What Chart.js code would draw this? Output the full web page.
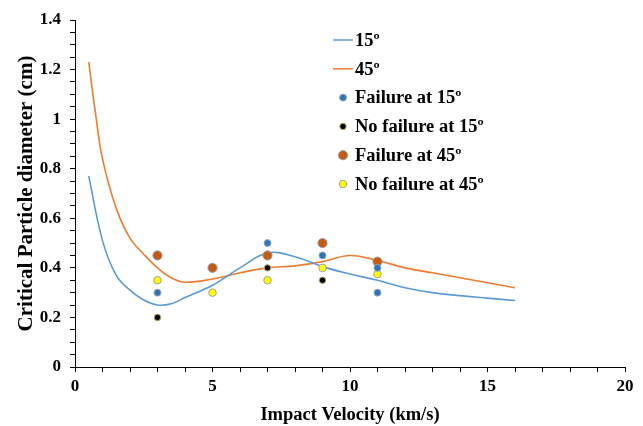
<!DOCTYPE html>
<html>
<head>
<meta charset="utf-8">
<script src="https://cdn.jsdelivr.net/npm/chart.js@4.4.1/dist/chart.umd.min.js"></script>
<style>
  html, body { margin: 0; padding: 0; background: #fff; }
  #wrap { width: 643px; height: 426px; }
</style>
</head>
<body>
<div id="wrap"><canvas id="myChart"></canvas></div>
<script>
// curve for 15 deg
var velo15 = [0.5, 1, 1.5, 2, 2.5, 3, 3.5, 4, 5, 6, 7, 8, 9, 10, 11, 12, 13, 14, 15, 16];
var diam15 = [0.77, 0.51, 0.37, 0.31, 0.27, 0.25, 0.255, 0.28, 0.33, 0.40, 0.46, 0.445, 0.405, 0.375, 0.35, 0.32, 0.30, 0.288, 0.278, 0.268];
// curve for 45 deg
var velo45 = [0.5, 0.75, 1, 1.5, 2, 2.5, 3, 3.5, 4, 5, 6, 7, 8, 9, 10, 11, 12, 13, 14, 15, 16];
var diam45 = [1.23, 1.02, 0.84, 0.64, 0.52, 0.455, 0.40, 0.36, 0.342, 0.355, 0.38, 0.40, 0.408, 0.425, 0.45, 0.43, 0.40, 0.38, 0.36, 0.34, 0.32];

// test points
var fail15X = [3, 7, 9, 11, 11];
var fail15Y = [0.30, 0.50, 0.45, 0.40, 0.30];
var noFail15X = [3, 7, 9];
var noFail15Y = [0.20, 0.40, 0.35];
var fail45X = [3, 5, 7, 9, 11];
var fail45Y = [0.45, 0.40, 0.45, 0.50, 0.425];
var noFail45X = [3, 5, 7, 9, 11];
var noFail45Y = [0.35, 0.30, 0.35, 0.40, 0.375];

var etiquetas = ['15º', '45º', 'Failure at 15º', 'No failure at 15º', 'Failure at 45º', 'No failure at 45º'];

function pares(xs, ys) {
    return xs.map((x, i) => ({x: x, y: ys[i]}));
}

var fuente = '"Liberation Serif", "Times New Roman", serif';

// legend drawn inside the plot, like the original
const leyenda = {
    id: 'leyenda',
    afterDraw(chart) {
        var ctx = chart.ctx;
        var x0 = 333, y0 = 40, paso = 28.8;
        ctx.save();
        ctx.font = 'bold 18.5px ' + fuente;
        ctx.textBaseline = 'middle';
        ctx.fillStyle = '#000';
        chart.data.datasets.forEach((ds, i) => {
            var y = y0 + i * paso;
            if (ds.showLine) {
                ctx.strokeStyle = ds.borderColor;
                ctx.lineWidth = 1.5;
                ctx.beginPath();
                ctx.moveTo(x0, y);
                ctx.lineTo(x0 + 20, y);
                ctx.stroke();
            } else {
                ctx.beginPath();
                ctx.arc(x0 + 10, y, ds.pointRadius, 0, Math.PI * 2);
                ctx.fillStyle = ds.pointBackgroundColor;
                ctx.fill();
                ctx.strokeStyle = ds.pointBorderColor;
                ctx.lineWidth = ds.pointBorderWidth;
                ctx.stroke();
            }
            ctx.fillStyle = '#000';
            ctx.fillText(etiquetas[i], x0 + 22, y + 1);
        });
        ctx.restore();
    }
};

function puntos(label, xs, ys, fondo, borde, radio) {
    return {
        label: label,
        data: pares(xs, ys),
        showLine: false,
        pointRadius: radio,
        pointBackgroundColor: fondo,
        pointBorderColor: borde,
        pointBorderWidth: 1,
        order: 1
    };
}

var ctx1 = document.getElementById('myChart').getContext('2d');
const myChart = new Chart(ctx1, {
    type: 'scatter',
    data: {
        datasets: [
            {
                label: etiquetas[0],
                data: pares(velo15, diam15),
                showLine: true,
                borderColor: '#5B9BD5',
                borderWidth: 1.6,
                pointRadius: 0,
                tension: 0.4,
                order: 2
            },
            {
                label: etiquetas[1],
                data: pares(velo45, diam45),
                showLine: true,
                borderColor: '#ED7D31',
                borderWidth: 1.6,
                pointRadius: 0,
                tension: 0.4,
                order: 2
            },
            puntos(etiquetas[2], fail15X, fail15Y, '#2E75B6', '#9AA8BC', 3.5),
            puntos(etiquetas[3], noFail15X, noFail15Y, '#000000', '#B8A860', 3.2),
            puntos(etiquetas[4], fail45X, fail45Y, '#C55A11', '#9C9CAC', 4.6),
            puntos(etiquetas[5], noFail45X, noFail45Y, '#FFFF00', '#A0A0A0', 3.8)
        ]
    },
    options: {
        responsive: true,
        maintainAspectRatio: false,
        animation: false,
        layout: { padding: { top: 20, right: 18, left: 0, bottom: 0 } },
        plugins: {
            legend: { display: false },
            tooltip: { enabled: false }
        },
        scales: {
            x: {
                type: 'linear',
                min: 0,
                max: 20,
                afterFit: s => { s.height = 59; },
                border: { color: '#000', width: 1 },
                grid: { drawOnChartArea: false, drawTicks: true, tickLength: 5, color: '#000' },
                ticks: {
                    stepSize: 1,
                    padding: 4,
                    color: '#000',
                    font: { family: fuente, size: 17, weight: 'bold' },
                    maxRotation: 0,
                    autoSkip: false,
                    callback: v => (v % 5 === 0 ? String(v) : '')
                },
                title: {
                    display: true,
                    text: 'Impact Velocity (km/s)',
                    color: '#000',
                    font: { family: fuente, size: 18.5, weight: 'bold' },
                    padding: { top: 0, bottom: 0 }
                }
            },
            y: {
                type: 'linear',
                min: 0,
                max: 1.4,
                afterFit: s => { s.width = 75; },
                border: { color: '#000', width: 1 },
                grid: { drawOnChartArea: false, drawTicks: true, tickLength: 5, color: '#000' },
                ticks: {
                    stepSize: 0.05,
                    padding: 9,
                    color: '#000',
                    font: { family: fuente, size: 17, weight: 'bold' },
                    autoSkip: false,
                    callback: v => {
                        var k = Math.round(v * 100);
                        return k % 20 === 0 ? String(k / 100) : '';
                    }
                },
                title: {
                    display: true,
                    text: 'Critical Particle diameter (cm)',
                    color: '#000',
                    font: { family: fuente, size: 21, weight: 'bold' },
                    padding: { top: 14, bottom: 0 }
                }
            }
        }
    },
    plugins: [leyenda]
});
</script>
</body>
</html>
